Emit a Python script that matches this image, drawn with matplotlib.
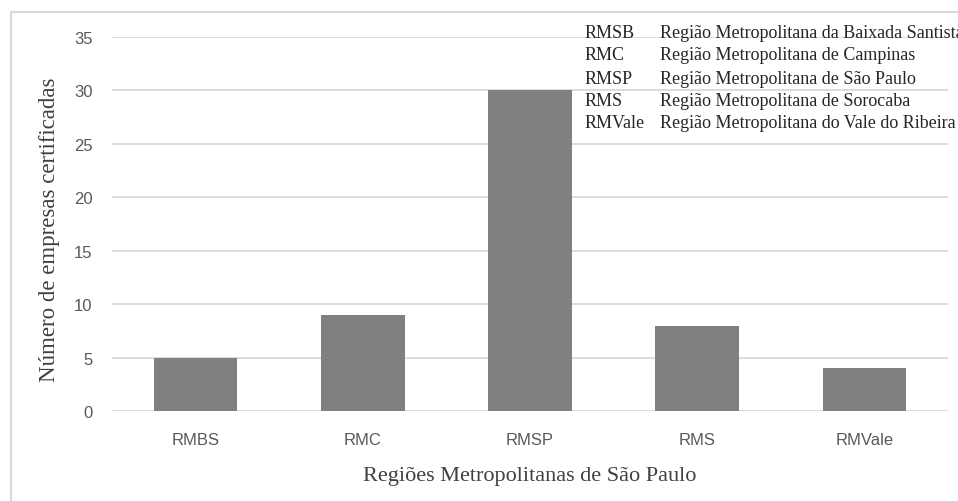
import matplotlib
matplotlib.use("Agg")
import matplotlib.pyplot as plt
from matplotlib.lines import Line2D

categories = ["RMBS", "RMC", "RMSP", "RMS", "RMVale"]
values = [5, 9, 30, 8, 4]
yticks = [0, 5, 10, 15, 20, 25, 30, 35]
legend_abbr = ["RMSB", "RMC", "RMSP", "RMS", "RMVale"]
legend_desc = [
    "Região Metropolitana da Baixada Santista",
    "Região Metropolitana de Campinas",
    "Região Metropolitana de São Paulo",
    "Região Metropolitana de Sorocaba",
    "Região Metropolitana do Vale do Ribeira",
]
xlabel = "Regiões Metropolitanas de São Paulo"
ylabel = "Número de empresas certificadas"

W, H = 958, 502
fig = plt.figure(figsize=(W / 100, H / 100), dpi=100)
fig.patch.set_facecolor("white")

# outer chart frame (only left & top visible)
fig.add_artist(Line2D([11 / W, 11 / W], [0, 1 - 13 / H], transform=fig.transFigure,
                      color="#d9d9d9", lw=1.5))
fig.add_artist(Line2D([11 / W, 1], [1 - 13 / H, 1 - 13 / H], transform=fig.transFigure,
                      color="#d9d9d9", lw=1.5))

left, right = 112 / W, 948 / W
bottom, top = 1 - 412 / H, 1 - 38 / H
ax = fig.add_axes([left, bottom, right - left, top - bottom])

x = list(range(len(categories)))
ax.bar(x, values, width=0.5, color="#808080", zorder=3)
ax.set_xlim(-0.5, len(categories) - 0.5)
ax.set_ylim(0, 35)
ax.set_yticks(yticks)
ax.set_xticks(x)
ax.set_xticklabels(categories)

for s in ax.spines.values():
    s.set_visible(False)
ax.grid(axis="y", color="#d9d9d9", lw=1.3, zorder=0)
ax.set_axisbelow(True)
ax.tick_params(axis="both", length=0, labelsize=12, labelcolor="#595959")
ax.tick_params(axis="y", pad=14)
ax.tick_params(axis="x", pad=15)
for lab in ax.get_xticklabels() + ax.get_yticklabels():
    lab.set_family("Liberation Sans")

ax.set_xlabel(xlabel, family="Liberation Serif", fontsize=16, color="#404040", va="center")
ax.xaxis.set_label_coords(0.5, 1 - (477 - 38) / (412 - 38), transform=ax.transAxes)
ax.set_ylabel(ylabel, family="Liberation Serif", fontsize=16.5, color="#404040", va="center")
ax.yaxis.set_label_coords((50 - 112) / (948 - 112), 1 - (230 - 38) / (412 - 38))

rows_y = [34, 56, 79, 101, 123]
for yy, a, d in zip(rows_y, legend_abbr, legend_desc):
    fig.text(585 / W, 1 - yy / H, a, family="Liberation Serif", fontsize=13,
             color="#262626", va="center", ha="left")
    fig.text(660 / W, 1 - yy / H, d, family="Liberation Serif", fontsize=13,
             color="#262626", va="center", ha="left")

fig.savefig("out.png", dpi=100, facecolor="white")
